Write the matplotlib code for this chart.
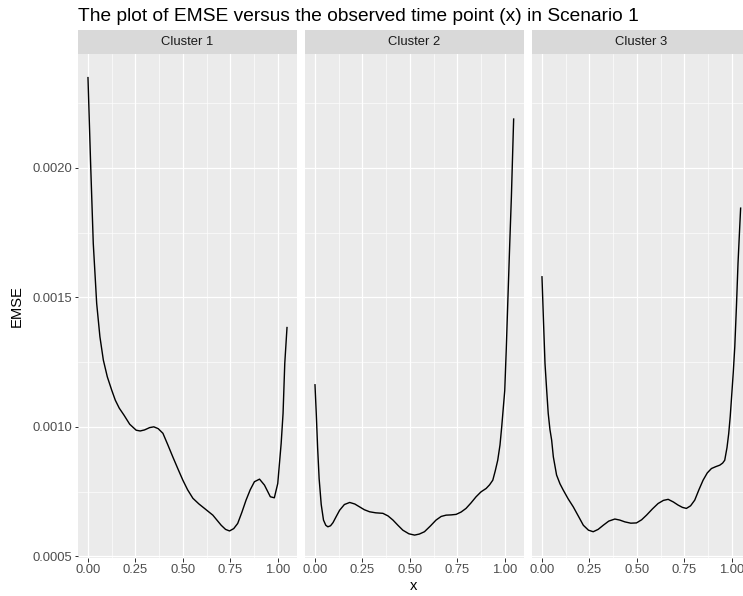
import matplotlib
matplotlib.use("Agg")
import matplotlib.pyplot as plt
from matplotlib.ticker import FixedLocator

plt.rcParams['font.family'] = ['Liberation Sans', 'DejaVu Sans']

# ---------------- data ----------------
clusters = ["Cluster 1", "Cluster 2", "Cluster 3"]

x_c1 = [0.000, 0.014, 0.028, 0.046, 0.063, 0.081, 0.102, 0.125, 0.144, 0.165,
        0.190, 0.220, 0.254,
        0.275, 0.298, 0.325, 0.347, 0.370, 0.395, 0.420, 0.447, 0.475, 0.500,
        0.525, 0.553, 0.585, 0.614, 0.658, 0.702, 0.725, 0.746, 0.768, 0.789,
        0.811, 0.833, 0.855, 0.877, 0.904, 0.930, 0.961, 0.982, 1.000, 1.018,
        1.028, 1.037, 1.049]
y_c1 = [0.002351, 0.002017, 0.001708, 0.001476, 0.001348, 0.001258, 0.001193, 0.001142, 0.001103, 0.001072,
        0.001045, 0.001010, 0.000987,
        0.000984, 0.000988, 0.000997, 0.001000, 0.000993, 0.000975, 0.000932, 0.000884, 0.000836, 0.000794,
        0.000757, 0.000724, 0.000702, 0.000685, 0.000659, 0.000620, 0.000604, 0.000598, 0.000607, 0.000627,
        0.000670, 0.000717, 0.000757, 0.000788, 0.000798, 0.000775, 0.000730, 0.000726, 0.000781, 0.000936,
        0.001052, 0.001245, 0.001386]

x_c2 = [0.000, 0.007, 0.014, 0.022, 0.033, 0.045, 0.057, 0.068, 0.082, 0.095,
        0.113, 0.130, 0.155, 0.183, 0.210, 0.235, 0.260, 0.288, 0.320, 0.358,
        0.385, 0.411, 0.437, 0.463, 0.495, 0.525, 0.550, 0.577, 0.608, 0.638,
        0.665, 0.691, 0.718, 0.744, 0.770, 0.796, 0.822, 0.849, 0.875, 0.902,
        0.920, 0.937, 0.950, 0.963, 0.975, 0.984, 0.992, 1.000, 1.008, 1.017,
        1.026, 1.035, 1.041, 1.047]
y_c2 = [0.001165, 0.001050, 0.000920, 0.000800, 0.000700, 0.000640, 0.000620, 0.000614, 0.000618, 0.000630,
        0.000655, 0.000678, 0.000700, 0.000708, 0.000702, 0.000691, 0.000680, 0.000672, 0.000668, 0.000666,
        0.000656, 0.000640, 0.000620, 0.000601, 0.000587, 0.000582, 0.000586, 0.000595, 0.000617, 0.000640,
        0.000654, 0.000659, 0.000660, 0.000662, 0.000671, 0.000685, 0.000706, 0.000730, 0.000749, 0.000762,
        0.000776, 0.000794, 0.000830, 0.000871, 0.000930, 0.001000, 0.001070, 0.001140, 0.001300, 0.001502,
        0.001700, 0.001888, 0.002040, 0.002191]

x_c3 = [0.000, 0.008, 0.016, 0.025, 0.033, 0.042, 0.051, 0.060, 0.077, 0.095,
        0.112, 0.138, 0.165, 0.192, 0.218, 0.245, 0.270, 0.296, 0.323, 0.352,
        0.384, 0.410, 0.437, 0.468, 0.498, 0.525, 0.551, 0.582, 0.612, 0.640,
        0.665, 0.692, 0.717, 0.740, 0.761, 0.783, 0.805, 0.827, 0.849, 0.871,
        0.893, 0.915, 0.937, 0.952, 0.963, 0.975, 0.984, 0.992, 0.998, 1.008,
        1.016, 1.025, 1.033, 1.040, 1.047]
y_c3 = [0.001582, 0.001410, 0.001245, 0.001140, 0.001052, 0.000990, 0.000949, 0.000884, 0.000814, 0.000780,
        0.000756, 0.000722, 0.000691, 0.000655, 0.000620, 0.000601, 0.000595, 0.000604, 0.000620, 0.000636,
        0.000644, 0.000640, 0.000633, 0.000628, 0.000629, 0.000641, 0.000659, 0.000683, 0.000704, 0.000716,
        0.000720, 0.000710, 0.000698, 0.000689, 0.000685, 0.000695, 0.000717, 0.000757, 0.000794, 0.000822,
        0.000839, 0.000846, 0.000852, 0.000860, 0.000871, 0.000920, 0.000974, 0.001040, 0.001103, 0.001210,
        0.001309, 0.001470, 0.001631, 0.001740, 0.001847]

x_ticks = [0.00, 0.25, 0.50, 0.75, 1.00]
x_tick_labels = ["0.00", "0.25", "0.50", "0.75", "1.00"]
y_ticks = [0.0005, 0.0010, 0.0015, 0.0020]
y_tick_labels = ["0.0005", "0.0010", "0.0015", "0.0020"]

title = "The plot of EMSE versus the observed time point (x) in Scenario 1"
x_label = "x"
y_label = "EMSE"

series = [(x_c1, y_c1), (x_c2, y_c2), (x_c3, y_c3)]

# ---------------- layout ----------------
W, H = 743, 596
DPI = 72
fig = plt.figure(figsize=(W / DPI, H / DPI), dpi=DPI)
fig.patch.set_facecolor("white")

panel_lefts = [78, 305, 532]
panel_w = 219
panel_top, panel_bot = 54, 558
strip_top = 30

# scale limits (ggplot-like 5% expansion)
all_x = x_c1 + x_c2 + x_c3
all_y = y_c1 + y_c2 + y_c3
xr = max(all_x) - min(all_x)
yr = max(all_y) - min(all_y)
xlim = (min(all_x) - 0.05 * xr, max(all_x) + 0.05 * xr)
ylim = (min(all_y) - 0.05 * yr, max(all_y) + 0.05 * yr)

for i, (name, (xs, ys)) in enumerate(zip(clusters, series)):
    l = panel_lefts[i]
    ax = fig.add_axes([l / W, (H - panel_bot) / H, panel_w / W, (panel_bot - panel_top) / H])
    ax.set_facecolor("#EBEBEB")
    for s in ax.spines.values():
        s.set_visible(False)
    ax.plot(xs, ys, color="black", lw=1.4, solid_capstyle="butt",
            solid_joinstyle="round", zorder=3)
    ax.set_xlim(*xlim)
    ax.set_ylim(*ylim)
    ax.xaxis.set_major_locator(FixedLocator(x_ticks))
    ax.set_xticklabels(x_tick_labels)
    ax.xaxis.set_minor_locator(FixedLocator([0.125, 0.375, 0.625, 0.875]))
    ax.yaxis.set_major_locator(FixedLocator(y_ticks))
    ax.yaxis.set_minor_locator(FixedLocator([0.00075, 0.00125, 0.00175, 0.00225]))
    ax.grid(which="major", color="white", lw=1.2, zorder=0)
    ax.grid(which="minor", color="white", lw=0.6, zorder=0)
    ax.set_axisbelow(True)
    ax.tick_params(which="major", length=3.5, width=1.0, color="#333333",
                   labelsize=13, labelcolor="#4D4D4D", pad=2.2)
    ax.tick_params(which="minor", length=0)
    if i == 0:
        ax.set_yticklabels(y_tick_labels)
    else:
        ax.tick_params(axis="y", which="major", length=0, labelleft=False)

    sax = fig.add_axes([l / W, (H - panel_top) / H, panel_w / W, (panel_top - strip_top) / H])
    sax.set_facecolor("#D9D9D9")
    sax.set_xticks([])
    sax.set_yticks([])
    for s in sax.spines.values():
        s.set_visible(False)
    sax.text(0.5, 0.5, name, ha="center", va="center", fontsize=13,
             color="#1A1A1A", transform=sax.transAxes)

fig.text(78 / W, 1 - 21 / H, title, ha="left", va="baseline", fontsize=19.1, color="black")
fig.text(17 / W, 1 - ((panel_top + panel_bot) / 2) / H, y_label, rotation=90,
         ha="center", va="center", fontsize=14.7, color="black")
fig.text(414 / W, 1 - 586 / H, x_label, ha="center", va="center", fontsize=14.7, color="black")

fig.savefig("out.png", dpi=DPI)
